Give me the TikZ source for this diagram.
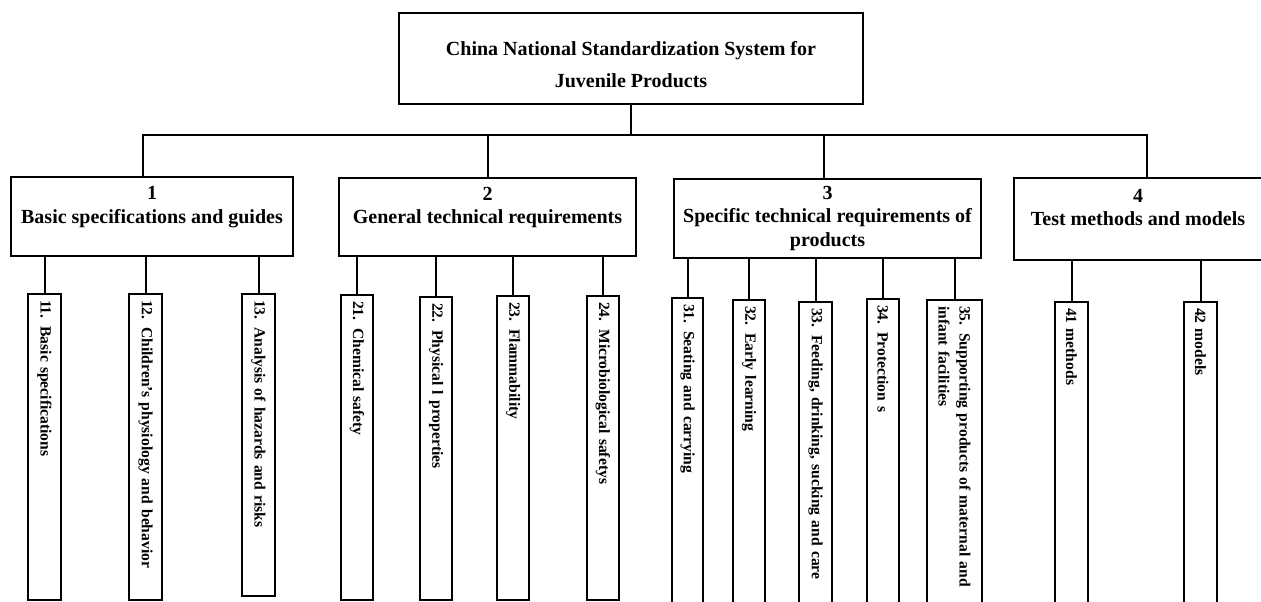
\documentclass[tikz,border=0pt]{standalone}
\usepackage{fontspec}
\setmainfont{Liberation Serif}
\begin{document}
\begin{tikzpicture}[x=1pt,y=1pt,
  rootbox/.style={draw, line width=2pt, minimum width=464pt, minimum height=91pt, align=center, inner sep=0pt, font=\bfseries\fontsize{20}{32}\selectfont},
  groupbox/.style={draw, line width=2pt, align=center, inner sep=0pt, font=\bfseries\fontsize{20}{23.5}\selectfont},
  leafbox/.style={draw, line width=2pt, rotate=-90, align=left, inner xsep=6pt, inner ysep=0pt, font=\bfseries\fontsize{15.6}{21}\selectfont},
  link/.style={line width=2pt}]
\useasboundingbox (0,0) rectangle (1261,-602);
\clip (0,0) rectangle (1261,-602);

% root
\node[rootbox] (root) at (631,-58.5) {\rule{0pt}{26pt}China National Standardization System for\\Juvenile Products};

% level 1
\node[groupbox, minimum width=282pt, minimum height=79pt] (g1) at (152,-216.5) {1\\Basic specifications and guides\\\mbox{}};
\node[groupbox, minimum width=297pt, minimum height=78pt] (g2) at (487.5,-217) {2\\General technical requirements\\\mbox{}};
\node[groupbox, minimum width=307pt, minimum height=79pt] (g3) at (827.5,-218.5) {3\\Specific technical requirements of\\products};
\node[groupbox, minimum width=248pt, minimum height=82pt] (g4) at (1138,-219) {4\\Test methods and models\\\mbox{}};

\coordinate (bus) at (631,-135);
\draw[link] (root.south) -- (bus);
\draw[link] ([xshift=-9pt]g1.north) |- (bus) -| ([xshift=9pt]g4.north);
\draw[link] (g2.north) |- (bus);
\draw[link] ([xshift=-3.5pt]g3.north) |- (bus);

% level 2
\node[leafbox, text width=294pt, minimum height=33pt] (b11) at (44.5,-447) {11. Basic specifications};
\node[leafbox, text width=294pt, minimum height=33pt] (b12) at (145.5,-447) {12. Children’s physiology and behavior};
\node[leafbox, text width=290pt, minimum height=33pt] (b13) at (258.5,-445) {13. Analysis of hazards and risks};

\node[leafbox, text width=293pt, minimum height=32pt] (b21) at (357,-447.5) {21. Chemical safety};
\node[leafbox, text width=291pt, minimum height=32pt] (b22) at (436,-448.5) {22. Physical l properties};
\node[leafbox, text width=292pt, minimum height=32pt] (b23) at (513,-448) {23. Flammability};
\node[leafbox, text width=292pt, minimum height=32pt] (b24) at (603,-448) {24. Microbiological safetys};

\node[leafbox, text width=301pt, minimum height=31pt] (b31) at (687.5,-454.5) {31. Seating and carrying};
\node[leafbox, text width=299pt, minimum height=32pt] (b32) at (749,-455.5) {32. Early learning};
\node[leafbox, text width=297pt, minimum height=33pt] (b33) at (815.5,-456.5) {33. Feeding, drinking, sucking and care};
\node[leafbox, text width=300pt, minimum height=32pt] (b34) at (883,-455) {34. Protection s};
\node[leafbox, text width=299pt, minimum height=55pt] (b35) at (954.5,-455.5) {35. Supporting products of maternal and\\infant facilities};

\node[leafbox, text width=297pt, minimum height=33pt] (b41) at (1071.5,-456.5) {41 methods};
\node[leafbox, text width=297pt, minimum height=33pt] (b42) at (1200.5,-456.5) {42 models};

\foreach \g/\b in {g1/b11,g1/b12,g1/b13,g2/b21,g2/b22,g2/b23,g2/b24,g3/b31,g3/b32,g3/b33,g3/b34,g3/b35,g4/b41,g4/b42}{
  \draw[link] (\b.west) -- (\b.west |- \g.south);
}
\end{tikzpicture}
\end{document}
